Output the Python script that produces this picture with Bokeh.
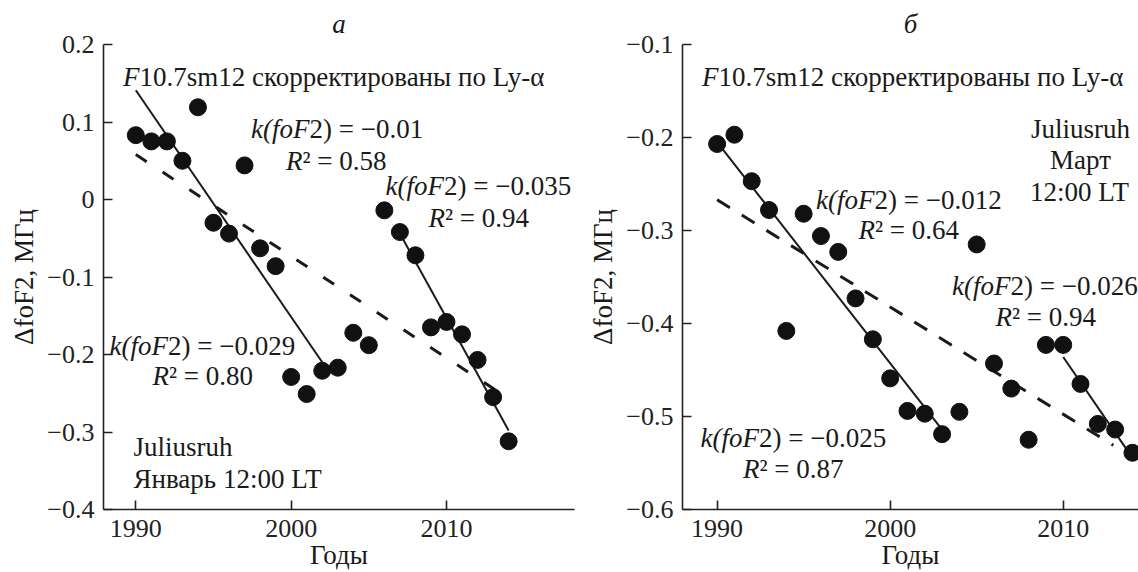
import math
from bokeh.plotting import figure
from bokeh.layouts import row
from bokeh.models import Range1d, FixedTicker, Label
from bokeh.embed import file_html
from bokeh.resources import INLINE

FONT = "Liberation Serif"

# ---------------- data ----------------
years = list(range(1990, 2015))
jan_dfof2 = [0.083, 0.075, 0.075, 0.050, 0.119, -0.030, -0.044, 0.044, -0.063, -0.086,
             -0.229, -0.251, -0.221, -0.217, -0.172, -0.188, -0.014, -0.042, -0.072, -0.165,
             -0.158, -0.174, -0.207, -0.255, -0.312]
mar_dfof2 = [-0.207, -0.197, -0.247, -0.278, -0.408, -0.282, -0.306, -0.323, -0.373, -0.417,
             -0.459, -0.494, -0.497, -0.519, -0.495, -0.315, -0.443, -0.470, -0.525, -0.423,
             -0.423, -0.465, -0.508, -0.514, -0.539]

# trend lines (end points)
jan_all_x = [1990, 2013.4]
jan_all_y = [0.058, -0.249]
jan_a_x = [1990, 2002]
jan_a_y = [0.141, -0.210]
jan_b_x = [2007, 2014]
jan_b_y = [-0.044, -0.298]

mar_all_x = [1990, 2012.9]
mar_all_y = [-0.267, -0.531]
mar_a_x = [1990, 2003]
mar_a_y = [-0.205, -0.514]
mar_b_x = [2010, 2014]
mar_b_y = [-0.436, -0.5445]

x_ticks = [1990, 2000, 2010]
x_tick_labels = ["1990", "2000", "2010"]
jan_y_ticks = [0.2, 0.1, 0.0, -0.1, -0.2, -0.3, -0.4]
jan_y_tick_labels = ["0.2", "0.1", "0", "\u22120.1", "\u22120.2", "\u22120.3", "\u22120.4"]
mar_y_ticks = [-0.1, -0.2, -0.3, -0.4, -0.5, -0.6]
mar_y_tick_labels = ["\u22120.1", "\u22120.2", "\u22120.3", "\u22120.4", "\u22120.5", "\u22120.6"]

header_it = "F"
header_rest = "10.7sm12 скорректированы по Ly-\u03b1"
y_label = "\u0394foF2, МГц"
x_label = "Годы"

# ---------------- layout helpers ----------------
H = 572
TOP = 43
FRAME_H = 468
INK = "#1a1a1a"


def converter(x0, x1, y0, y1, fl, fr, ft, fb):
    def f(px, py):
        return (x0 + (px - fl) * (x1 - x0) / (fr - fl),
                y1 - (py - ft) * (y1 - y0) / (fb - ft))
    return f


def make_fig(width, border_left, border_right, xr, yr, title, title_offset):
    p = figure(width=width, height=H, output_backend="svg", toolbar_location=None,
               x_range=Range1d(*xr), y_range=Range1d(*yr),
               min_border_left=border_left, min_border_right=border_right,
               min_border_top=TOP, min_border_bottom=H - TOP - FRAME_H)
    p.outline_line_color = None
    p.grid.visible = False
    p.background_fill_color = "white"
    p.border_fill_color = "white"
    p.title.text = title
    p.title.align = "center"
    p.title.offset = title_offset
    p.title.text_font = FONT
    p.title.text_font_size = "27px"
    p.title.text_font_style = "italic"
    p.title.text_color = INK
    p.title.standoff = 12
    for ax in (p.xaxis[0], p.yaxis[0]):
        ax.axis_line_color = "#222222"
        ax.axis_line_width = 1.6
        ax.major_tick_line_color = "#222222"
        ax.major_tick_line_width = 1.6
        ax.major_tick_in = 9
        ax.major_tick_out = 0
        ax.minor_tick_line_color = None
        ax.major_label_text_font = FONT
        ax.major_label_text_font_size = "26px"
        ax.major_label_text_color = "#222222"
        ax.axis_label_text_font = FONT
        ax.axis_label_text_font_size = "27px"
        ax.axis_label_text_font_style = "normal"
        ax.axis_label_text_color = INK
    p.xaxis.major_label_standoff = 10
    p.yaxis.major_label_standoff = 9
    p.xaxis.ticker = FixedTicker(ticks=x_ticks)
    p.xaxis.major_label_overrides = dict(zip(x_ticks, x_tick_labels))
    p.xaxis.axis_label = x_label
    p.xaxis.axis_label_standoff = 0
    p.yaxis.axis_label = y_label
    p.yaxis.axis_label_standoff = 5
    return p


def lab(p, xy, text, align="left", italic=False, size="27px"):
    x, y = xy
    p.add_layout(Label(x=x, y=y, text=text, text_align=align, text_baseline="alphabetic",
                       text_font=FONT, text_font_size=size,
                       text_font_style="italic" if italic else "normal",
                       text_color=INK))


def mixed(p, xy, it, up):
    lab(p, xy, it, align="right", italic=True)
    lab(p, xy, up, align="left")


# ---------------- left panel (a) ----------------
L_XR = (1987.92, 2018.24)
L_YR = (-0.4, 0.2)
pl = make_fig(580, 103, 6, L_XR, L_YR, "а", 0)
pl.yaxis.ticker = FixedTicker(ticks=jan_y_ticks)
pl.yaxis.major_label_overrides = dict(zip(jan_y_ticks, jan_y_tick_labels))
cl = converter(L_XR[0], L_XR[1], L_YR[0], L_YR[1], 103, 574, 43, 511)

pl.line(jan_all_x, jan_all_y, line_color=INK, line_width=3, line_dash="13 19")
pl.line(jan_a_x, jan_a_y, line_color=INK, line_width=2)
pl.line(jan_b_x, jan_b_y, line_color=INK, line_width=2)
pl.scatter(years, jan_dfof2, size=17, fill_color="#111111", line_color="#111111")

mixed(pl, cl(139, 76), header_it, header_rest)
mixed(pl, cl(309, 128), "k(foF", "2) = \u22120.01")
mixed(pl, cl(302, 160), "R", "\u00b2 = 0.58")
mixed(pl, cl(443.5, 185), "k(foF", "2) = \u22120.035")
mixed(pl, cl(444.5, 218), "R", "\u00b2 = 0.94")
mixed(pl, cl(167.5, 346), "k(foF", "2) = \u22120.029")
mixed(pl, cl(168.5, 377), "R", "\u00b2 = 0.80")
lab(pl, cl(133, 448), "Juliusruh")
lab(pl, cl(133, 480), "Январь 12:00 LT")

# ---------------- right panel (б) ----------------
R_XR = (1988.0, 2014.35)
R_YR = (-0.6, -0.1)
pr = make_fig(558, 102, 0, R_XR, R_YR, "б", 4)
pr.yaxis.ticker = FixedTicker(ticks=mar_y_ticks)
pr.yaxis.major_label_overrides = dict(zip(mar_y_ticks, mar_y_tick_labels))
cr = converter(R_XR[0], R_XR[1], R_YR[0], R_YR[1], 682, 1138, 43, 511)

pr.line(mar_all_x, mar_all_y, line_color=INK, line_width=3, line_dash="15 14")
pr.line(mar_a_x, mar_a_y, line_color=INK, line_width=2)
pr.line(mar_b_x, mar_b_y, line_color=INK, line_width=2)
pr.scatter(years, mar_dfof2, size=17, fill_color="#111111", line_color="#111111")

mixed(pr, cr(718, 76), header_it, header_rest)
lab(pr, cr(1080, 128), "Juliusruh", align="center")
lab(pr, cr(1080, 159), "Март", align="center")
lab(pr, cr(1079, 191), "12:00 LT", align="center")
mixed(pr, cr(874, 200), "k(foF", "2) = \u22120.012")
mixed(pr, cr(874.5, 230), "R", "\u00b2 = 0.64")
mixed(pr, cr(1010, 286), "k(foF", "2) = \u22120.026")
mixed(pr, cr(1011.5, 317), "R", "\u00b2 = 0.94")
mixed(pr, cr(758.5, 439), "k(foF", "2) = \u22120.025")
mixed(pr, cr(759, 470), "R", "\u00b2 = 0.87")

layout = row(pl, pr)
open("out.html", "w").write(file_html(layout, INLINE))
